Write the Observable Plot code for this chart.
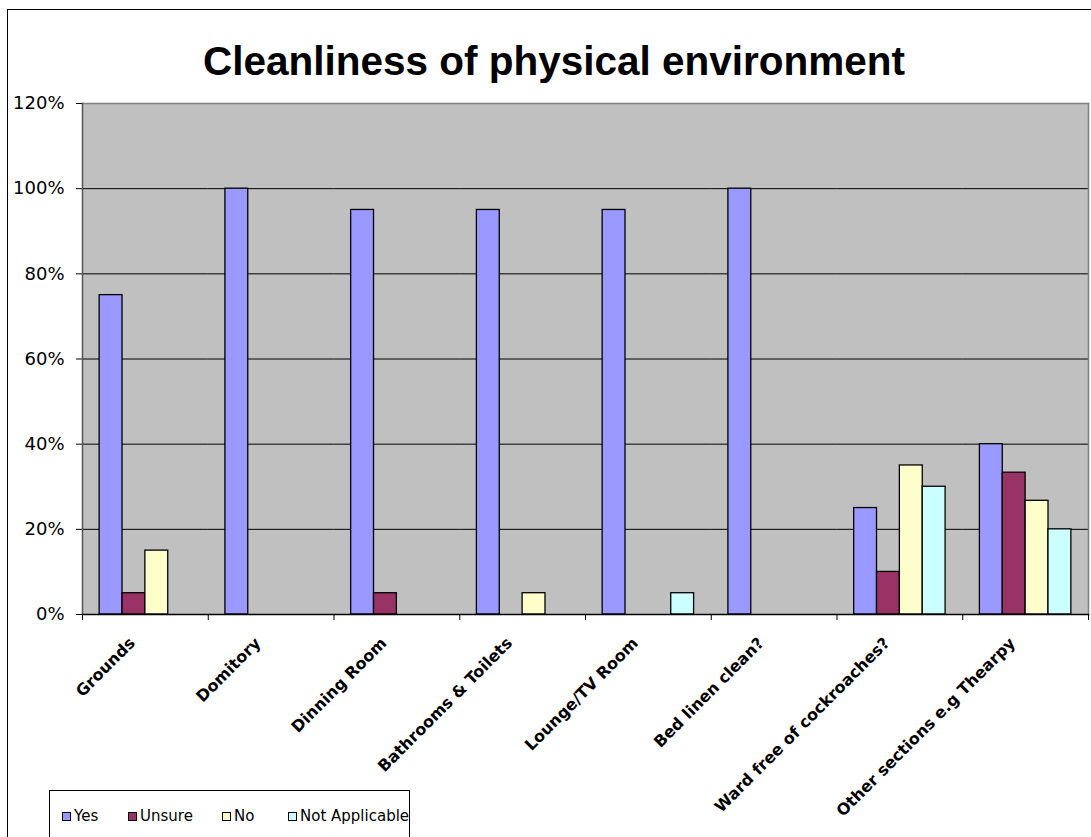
<!DOCTYPE html>
<html>
<head>
<meta charset="utf-8">
<script src="https://cdn.jsdelivr.net/npm/d3@7"></script>
<script src="https://cdn.jsdelivr.net/npm/@observablehq/plot@0.6"></script>
<style>
  html, body { margin: 0; padding: 0; background: #fff; overflow: hidden; width: 1091px; height: 837px; }
  #page { position: relative; width: 1091px; height: 837px; }
  #border { position: absolute; left: 7px; top: 9px; width: 1200px; height: 1000px; border: 1.5px solid #000; box-sizing: border-box; }
  #chart { position: absolute; left: 0; top: 0; }
  #title { position: absolute; left: 0; width: 1108px; top: 41px; text-align: center; font: bold 40.5px "Liberation Sans", Arial, sans-serif; line-height: 40px; color: #000; }
  #legend { position: absolute; left: 49px; top: 790px; width: 361px; height: 80px; border: 1px solid #000; box-sizing: border-box; background: #fff; font: 15px "DejaVu Sans", sans-serif; color: #000; }
  .item { position: absolute; top: 17px; white-space: nowrap; line-height: 17px; }
  .sw { display: inline-block; width: 9px; height: 9px; border: 1px solid #000; box-sizing: border-box; margin-right: 3px; vertical-align: 0px; }
</style>
</head>
<body>
<div id="page">
  <div id="border"></div>
  <div id="chart"></div>
  <div id="title">Cleanliness of physical environment</div>
  <div id="legend"></div>
</div>
<script>
// Survey categories and the share of responses in each answer group
const categories = [
  "Grounds",
  "Domitory",
  "Dinning Room",
  "Bathrooms & Toilets",
  "Lounge/TV Room",
  "Bed linen clean?",
  "Ward free of cockroaches?",
  "Other sections e.g Thearpy"
];
const series = ["Yes", "Unsure", "No", "Not Applicable"];
const seriesColors = ["#9999FF", "#993366", "#FFFFCC", "#CCFFFF"];

const yes           = [0.75, 1.00, 0.95, 0.95, 0.95, 1.00, 0.25, 0.40];
const unsure        = [0.05, 0.00, 0.05, 0.00, 0.00, 0.00, 0.10, 0.333];
const no            = [0.15, 0.00, 0.00, 0.05, 0.00, 0.00, 0.35, 0.267];
const notApplicable = [0.00, 0.00, 0.00, 0.00, 0.05, 0.00, 0.30, 0.20];

const yTicks = [0, 0.2, 0.4, 0.6, 0.8, 1.0, 1.2];
const legendLefts = [12, 78, 172, 238];

// Long-format rows for the grouped bars (empty answers draw nothing)
const valuesBySeries = [yes, unsure, no, notApplicable];
const rows = [];
series.forEach((s, si) => {
  categories.forEach((c, ci) => {
    rows.push({category: c, series: s, value: valuesBySeries[si][ci]});
  });
});

const W = 1091, H = 837;
const mLeft = 82, mRight = 3, mTop = 103, mBottom = 223;
const groupStep = (W - mLeft - mRight) / categories.length;

const chart = Plot.plot({
  width: W,
  height: H,
  marginLeft: mLeft,
  marginRight: mRight,
  marginTop: mTop,
  marginBottom: mBottom,
  style: {fontFamily: "DejaVu Sans", fontSize: "18px", color: "#000", background: "transparent", overflow: "visible"},
  fx: {domain: categories, padding: 0, round: false, label: null, axis: null},
  x: {domain: series, paddingInner: 0, paddingOuter: 0.75, round: false, axis: null},
  y: {domain: [0, 1.2], axis: null},
  color: {domain: series, range: seriesColors},
  marks: [
    // plot area background and borders
    Plot.frame({fill: "#C0C0C0", facet: "super"}),
    Plot.gridY(yTicks.filter(t => t > 0 && t < 1.2), {stroke: "#000", strokeOpacity: 1}),
    Plot.frame({anchor: "top", stroke: "#808080", strokeWidth: 1.5, facet: "super"}),
    Plot.frame({anchor: "right", stroke: "#808080", strokeWidth: 1.5, facet: "super"}),
    // bars
    Plot.barY(rows.filter(d => d.value > 0), {
      fx: "category", x: "series", y: "value", fill: "series",
      stroke: "#000", strokeWidth: 1.3
    }),
    // axes
    Plot.axisY({
      ticks: yTicks, tickFormat: d => Math.round(d * 100) + "%",
      tickSize: 6, tickPadding: 12, fontSize: 18, label: null
    }),
    Plot.frame({anchor: "left", stroke: "#555", strokeWidth: 1.5, facet: "super"}),
    Plot.frame({anchor: "bottom", stroke: "#000", strokeWidth: 1.5, facet: "super"}),
    // category labels, rotated
    Plot.axisFx({
      anchor: "bottom", tickSize: 0, tickPadding: 26, tickRotate: -45,
      fontWeight: "bold", fontSize: 16, label: null, dx: -13
    }),
    // tick marks at category boundaries
    Plot.axisFx({anchor: "bottom", tickSize: 6, tickFormat: () => "", label: null, dx: -groupStep / 2}),
    Plot.axisFx({anchor: "bottom", ticks: [categories[categories.length - 1]], tickSize: 6, tickFormat: () => "", label: null, dx: groupStep / 2})
  ]
});
document.getElementById("chart").appendChild(chart);

// legend
const legend = document.getElementById("legend");
series.forEach((s, i) => {
  const item = document.createElement("div");
  item.className = "item";
  item.style.left = legendLefts[i] + "px";
  const sw = document.createElement("span");
  sw.className = "sw";
  sw.style.background = seriesColors[i];
  item.appendChild(sw);
  item.appendChild(document.createTextNode(s));
  legend.appendChild(item);
});
</script>
</body>
</html>
